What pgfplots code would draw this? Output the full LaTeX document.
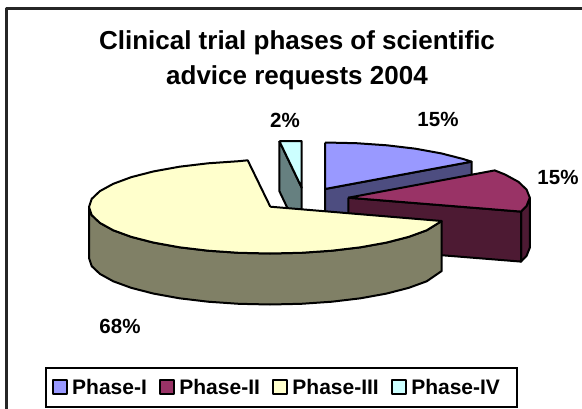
\documentclass[border=0pt]{standalone}
\usepackage{fontspec}
\setmainfont{Liberation Sans}
\usepackage{pgfplots}
\pgfplotsset{compat=1.18}
\definecolor{phaseone}{HTML}{9999FF}
\definecolor{phasetwo}{HTML}{993366}
\definecolor{phasethree}{HTML}{FFFFCC}
\definecolor{phasefour}{HTML}{CCFFFF}
\definecolor{sideone}{HTML}{4D4D80}
\definecolor{sidetwo}{HTML}{4D1A33}
\definecolor{sidethree}{HTML}{808066}
\definecolor{sidefour}{HTML}{668080}
\begin{document}
\begin{tikzpicture}
\begin{axis}[
  scale only axis, width=582bp, height=409bp,
  xmin=0, xmax=582, ymin=0, ymax=409, y dir=reverse,
  axis line style={draw=none}, ticks=none,
  every axis plot/.append style={draw=black, line width=2bp, line join=round, mark=none},
  legend image code/.code={\draw[#1,line width=2bp] (0bp,-6.5bp) rectangle (13.5bp,7bp);},
  legend style={at={(axis cs:44.7,407.5)}, anchor=south west, legend columns=4,
    draw=black, line width=2bp, inner xsep=6.5bp, inner ysep=9bp,
    font=\fontsize{21bp}{24bp}\bfseries,
    nodes={inner xsep=2bp},
    /tikz/every odd column/.append style={column sep=2.5bp},
    /tikz/every even column/.append style={column sep=10.5bp}},
]
\addlegendimage{fill=phaseone}
\addlegendentry{Phase-I}
\addlegendimage{fill=phasetwo}
\addlegendentry{Phase-II}
\addlegendimage{fill=phasethree}
\addlegendentry{Phase-III}
\addlegendimage{fill=phasefour}
\addlegendentry{Phase-IV\rule{8bp}{0pt}}

% frame, only top and left show
\addplot[forget plot, line width=2.2bp, draw=black!85] coordinates {(6.5,409)(6.5,8.5)(582,8.5)};

% Phase-I
\addplot[forget plot, fill=sideone] coordinates {(325,189)(471.5,161.7)(471.5,212.7)(325,240)(325,189)};
\addplot[forget plot, fill=phaseone] coordinates {(325,142.5)(356.4,143.2)(386.9,145.3)(415.5,148.7)(441.3,153.4)(463.6,159.1)(471.5,161.7)(325,189)(325,142.5)};

% Phase-IV
\addplot[forget plot, fill=sidefour] coordinates {(279.3,141)(301.7,187.7)(301.7,238)(279.3,191)(279.3,141)};
\addplot[forget plot, fill=phasefour] coordinates {(279.3,141)(301.7,141)(301.7,187.7)(279.3,141)};

% Phase-II
\addplot[forget plot, fill=sidetwo] coordinates {(521,211.6)(526.6,205.8)(529.8,197.7)(529.8,247.7)(526.6,255.8)(521,261.6)(521,211.6)};
\addplot[forget plot, fill=sidetwo] coordinates {(348.3,197.7)(521,211.6)(521,261.6)(348.3,247.7)(348.3,197.7)};
\addplot[forget plot, fill=phasetwo] coordinates {(348.3,197.7)(494.7,170.4)(505,174.5)(518.4,181.8)(526.6,189.6)(529.8,197.7)(526.6,205.8)(521,211.6)(348.3,197.7)};

% Phase-III
\addplot[forget plot, fill=sidethree] coordinates {(441.7,221)(426.7,230.3)(408.6,236.9)(386.4,242.6)(360.5,247.3)(331.9,250.7)(301.4,252.8)(270,253.5)(238.6,252.8)(208.1,250.7)(179.5,247.3)(153.6,242.6)(131.4,236.9)(113.3,230.3)(99.9,222.9)(91.7,215.1)(89,207)
  (89,258)(91.7,266.1)(99.9,273.9)(113.3,281.3)(131.4,287.9)(153.6,293.6)(179.5,298.3)(208.1,301.7)(238.6,303.8)(270,304.5)(301.4,303.8)(331.9,301.7)(360.5,298.3)(386.4,293.6)(408.6,287.9)(426.7,281.3)(441.7,271)(441.7,221)};
\addplot[forget plot, fill=phasethree] coordinates {(270.3,206.7)(441.7,221)(426.7,230.3)(408.6,236.9)(386.4,242.6)(360.5,247.3)(331.9,250.7)(301.4,252.8)(270,253.5)(238.6,252.8)(208.1,250.7)(179.5,247.3)(153.6,242.6)(131.4,236.9)(113.3,230.3)(99.9,222.9)(91.7,215.1)(89,207)(91.7,198.9)(99.9,191.1)(113.3,183.8)(131.4,177.1)(153.6,171.4)(179.5,166.7)(208.1,163.3)(238.6,161.2)(247.7,160.3)(270.3,206.7)};

% title and percentages
\node[font=\fontsize{26bp}{35bp}\bfseries, align=center] at (axis cs:297,60.5) {Clinical trial phases of scientific\\advice requests 2004};
\node[font=\fontsize{20.5bp}{24bp}\bfseries] at (axis cs:285,120) {2\%};
\node[font=\fontsize{20.5bp}{24bp}\bfseries] at (axis cs:438,119) {15\%};
\node[font=\fontsize{20.5bp}{24bp}\bfseries] at (axis cs:558,177) {15\%};
\node[font=\fontsize{20.5bp}{24bp}\bfseries] at (axis cs:120,326) {68\%};
\end{axis}
\end{tikzpicture}
\end{document}
